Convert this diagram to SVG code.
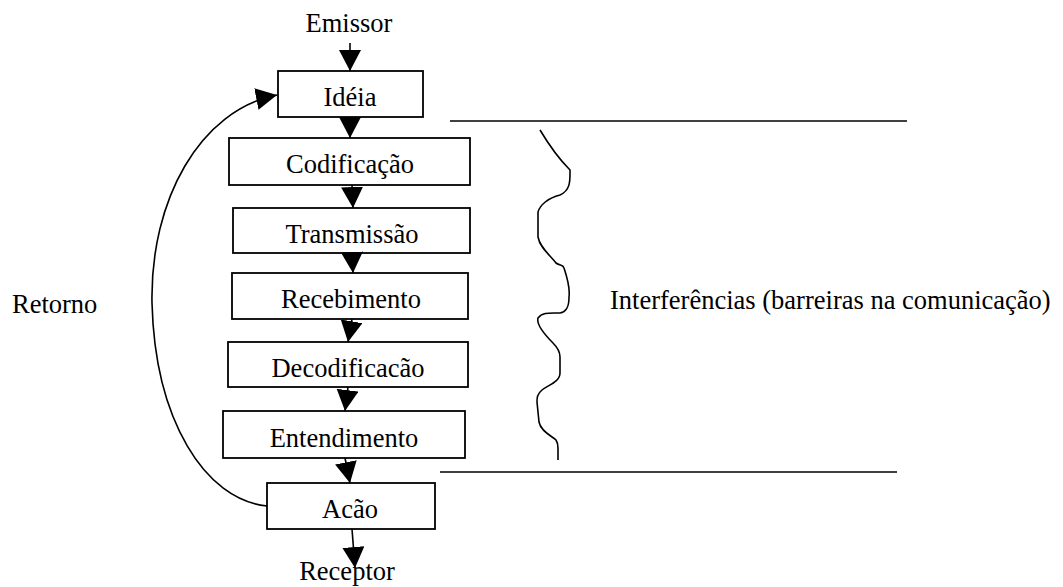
<svg xmlns="http://www.w3.org/2000/svg" width="1063" height="587" viewBox="0 0 1063 587">
  <style>
    .box { fill: #fff; stroke: #000; stroke-width: 1.8; }
    .lbl { font-family: "Liberation Serif", "Times New Roman", serif; font-size: 26.5px; fill: #000; }
    .mid { text-anchor: middle; }
    .edge { fill: none; stroke: #000; stroke-width: 1.6; }
    .rule { fill: none; stroke: #000; stroke-width: 1.6; }
  </style>
  <defs>
    <marker id="head" markerUnits="userSpaceOnUse" markerWidth="24" markerHeight="24" refX="21" refY="11" orient="auto">
      <path d="M0,0 L21,11 L0,22 Z" fill="#000"/>
    </marker>
  </defs>
  <rect width="1063" height="587" fill="#fff"/>

  <!-- free labels -->
  <text class="lbl mid" x="349" y="32">Emissor</text>
  <text class="lbl mid" x="347" y="580">Receptor</text>
  <text class="lbl" x="12" y="313">Retorno</text>
  <text class="lbl" x="610" y="309">Interferências (barreiras na comunicação)</text>

  <!-- process steps -->
  <g id="ideia">
    <rect class="box" x="278" y="71" width="145" height="46"/>
    <text class="lbl mid" x="350" y="106">Idéia</text>
  </g>
  <g id="codificacao">
    <rect class="box" x="229" y="138" width="241" height="47"/>
    <text class="lbl mid" x="350" y="173">Codificação</text>
  </g>
  <g id="transmissao">
    <rect class="box" x="233" y="208" width="237" height="45"/>
    <text class="lbl mid" x="352" y="243">Transmissão</text>
  </g>
  <g id="recebimento">
    <rect class="box" x="232" y="273" width="236" height="46"/>
    <text class="lbl mid" x="351" y="308">Recebimento</text>
  </g>
  <g id="decodificacao">
    <rect class="box" x="228" y="342" width="240" height="45"/>
    <text class="lbl mid" x="348" y="377">Decodificacão</text>
  </g>
  <g id="entendimento">
    <rect class="box" x="223" y="411" width="242" height="47"/>
    <text class="lbl mid" x="344" y="447">Entendimento</text>
  </g>
  <g id="acao">
    <rect class="box" x="267" y="483" width="168" height="46"/>
    <text class="lbl mid" x="350" y="518">Acão</text>
  </g>

  <!-- interference zone: boundary rules and wavy brace -->
  <g id="interferencias">
    <line class="rule" x1="450" y1="121" x2="907" y2="121"/>
    <line class="rule" x1="440" y1="472" x2="897" y2="472"/>
    <path class="rule" d="M540,130 Q555,155 570,170 C570,180 571,190 560,195 C548,198 540,205 538,212 L538,237 C540,248 550,255 556,263 C560,266 563,264 564,268 C568,280 570,290 569,297 C569,308 566,312 560,313 C550,313 542,312 538,318 C536,325 545,335 553,343 C558,348 560,352 560,357 L560,373 C560,382 548,385 542,390 C537,394 537,398 537,402 L539,422 C541,432 552,436 556,440 C558,443 558,445 558,448 L558,460"/>
  </g>

  <!-- connectors -->
  <g id="connectors">
    <line class="edge" x1="350" y1="43" x2="350" y2="71" marker-end="url(#head)"/>
    <line class="edge" x1="350" y1="117" x2="350" y2="138" marker-end="url(#head)"/>
    <line class="edge" x1="352" y1="185" x2="353" y2="208" marker-end="url(#head)"/>
    <line class="edge" x1="352" y1="253" x2="353" y2="273" marker-end="url(#head)"/>
    <line class="edge" x1="352" y1="319" x2="348" y2="342" marker-end="url(#head)"/>
    <line class="edge" x1="348" y1="387" x2="345" y2="411" marker-end="url(#head)"/>
    <line class="edge" x1="345" y1="458" x2="350" y2="483" marker-end="url(#head)"/>
    <line class="edge" x1="352" y1="529" x2="355" y2="568" marker-end="url(#head)"/>
    <path class="edge" d="M267,506 C205,500 155,420 152,303 C150,200 200,110 277,95" marker-end="url(#head)"/>
  </g>
</svg>
